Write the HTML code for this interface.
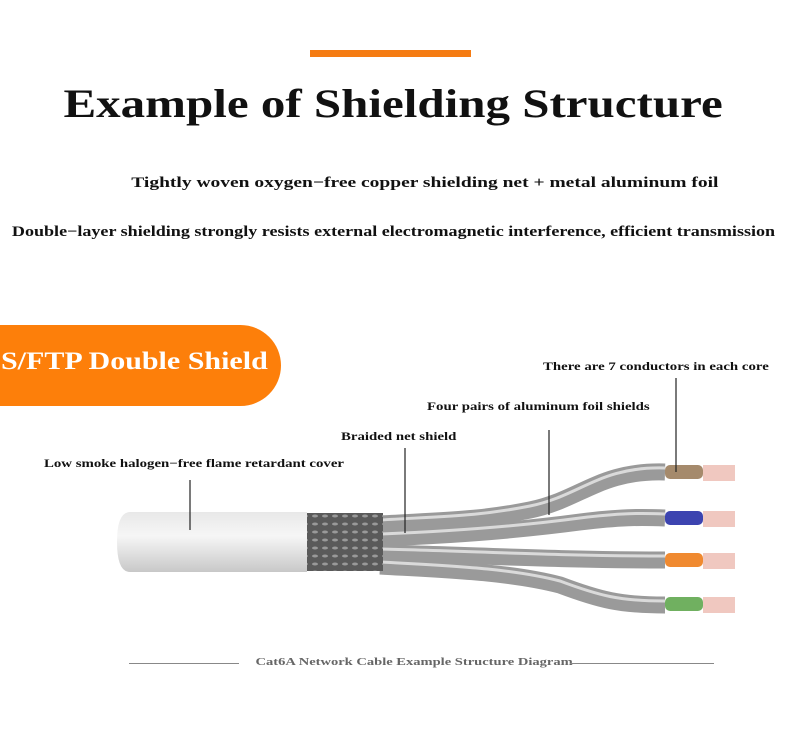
<!DOCTYPE html>
<html><head><meta charset="utf-8"><style>
body{margin:0;width:800px;height:730px;background:#fff;overflow:hidden;position:relative;font-family:"Liberation Serif",serif;font-weight:bold;color:#111}
.a{position:absolute;white-space:nowrap}
.c{left:0;width:800px;text-align:center}
.c span{display:inline-block}
</style></head><body>
<div class="a" style="left:310px;top:50px;width:161px;height:7px;background:#f57c13"></div>
<div class="a c" style="left:-7px;top:80px;font-size:40px;"><span style="transform:scaleX(1.225)">Example of Shielding Structure</span></div>
<div class="a c" style="left:25px;top:175px;font-size:15px;"><span style="transform:scaleX(1.3)">Tightly woven oxygen−free copper shielding net + metal aluminum foil</span></div>
<div class="a c" style="left:-7px;top:224px;font-size:14.5px;"><span style="transform:scaleX(1.245)">Double−layer shielding strongly resists external electromagnetic interference, efficient transmission</span></div>
<div class="a" style="left:0;top:325px;width:281px;height:81px;background:#fd7f0a;border-radius:0 41px 41px 0"></div>
<div class="a" style="left:1px;top:348px;font-size:25px;color:#fff;transform:scaleX(1.2);transform-origin:0 0">S/FTP Double Shield</div>
<div class="a" style="left:543px;top:361px;font-size:11.5px;transform:scaleX(1.29);transform-origin:0 0">There are 7 conductors in each core</div>
<div class="a" style="left:427px;top:401px;font-size:11.5px;transform:scaleX(1.29);transform-origin:0 0">Four pairs of aluminum foil shields</div>
<div class="a" style="left:341px;top:431px;font-size:11.5px;transform:scaleX(1.29);transform-origin:0 0">Braided net shield</div>
<div class="a" style="left:44px;top:458px;font-size:11.5px;transform:scaleX(1.29);transform-origin:0 0">Low smoke halogen−free flame retardant cover</div>
<div class="a c" style="left:14px;top:656px;font-size:11px;color:#666"><span style="transform:scaleX(1.32)">Cat6A Network Cable Example Structure Diagram</span></div>
<div class="a" style="left:129px;top:663px;width:110px;height:1px;background:#888"></div>
<div class="a" style="left:570px;top:663px;width:144px;height:1px;background:#888"></div>
<svg class="a" style="left:0;top:0" width="800" height="730">
<defs>
<linearGradient id="j" x1="0" y1="0" x2="0" y2="1"><stop offset="0" stop-color="#e8e8e8"/><stop offset=".4" stop-color="#f6f6f6"/><stop offset="1" stop-color="#c8c8c8"/></linearGradient>
<pattern id="br" width="10" height="8" patternUnits="userSpaceOnUse"><rect width="10" height="8" fill="#5a5a5a"/><ellipse cx="5" cy="4" rx="3" ry="1.5" fill="#999"/></pattern>
</defs>
<g stroke="#9a9a9a" stroke-width="17" fill="none" stroke-linecap="butt">
<path d="M380 524 C450 520,480 520,530 510 C580 500,600 470,665 472"/>
<path d="M380 538 C460 535,520 530,580 522 C620 517,640 517,665 518"/>
<path d="M380 553 C470 555,560 560,665 560"/>
<path d="M380 566 C450 570,510 572,560 585 C600 600,620 605,665 605"/>
</g>
<g stroke="#dadada" stroke-width="3" fill="none">
<path d="M380 520 C450 516,480 516,530 506 C580 496,600 466,665 468"/>
<path d="M380 534 C460 531,520 526,580 518 C620 513,640 513,665 514"/>
<path d="M380 549 C470 551,560 556,665 556"/>
<path d="M380 562 C450 566,510 568,560 581 C600 596,620 601,665 601"/>
</g>
<rect x="665" y="465" width="38" height="14" rx="5" fill="#a58a6c"/>
<rect x="665" y="511" width="38" height="14" rx="5" fill="#3c44b0"/>
<rect x="665" y="553" width="38" height="14" rx="5" fill="#f08a30"/>
<rect x="665" y="597" width="38" height="14" rx="5" fill="#70b060"/>
<g fill="#f0c8c0"><rect x="703" y="465" width="32" height="16"/><rect x="703" y="511" width="32" height="16"/><rect x="703" y="553" width="32" height="16"/><rect x="703" y="597" width="32" height="16"/></g>
<rect x="307" y="513" width="76" height="58" fill="url(#br)"/>
<path d="M130 512 H307 V572 H130 Q117 572 117 542 Q117 512 130 512Z" fill="url(#j)"/>
<g stroke="#222" stroke-width="1.2">
<line x1="676" y1="378" x2="676" y2="472"/>
<line x1="549" y1="430" x2="549" y2="515"/>
<line x1="405" y1="448" x2="405" y2="533"/>
<line x1="190" y1="480" x2="190" y2="530"/>
</g>
</svg>
</body></html>
